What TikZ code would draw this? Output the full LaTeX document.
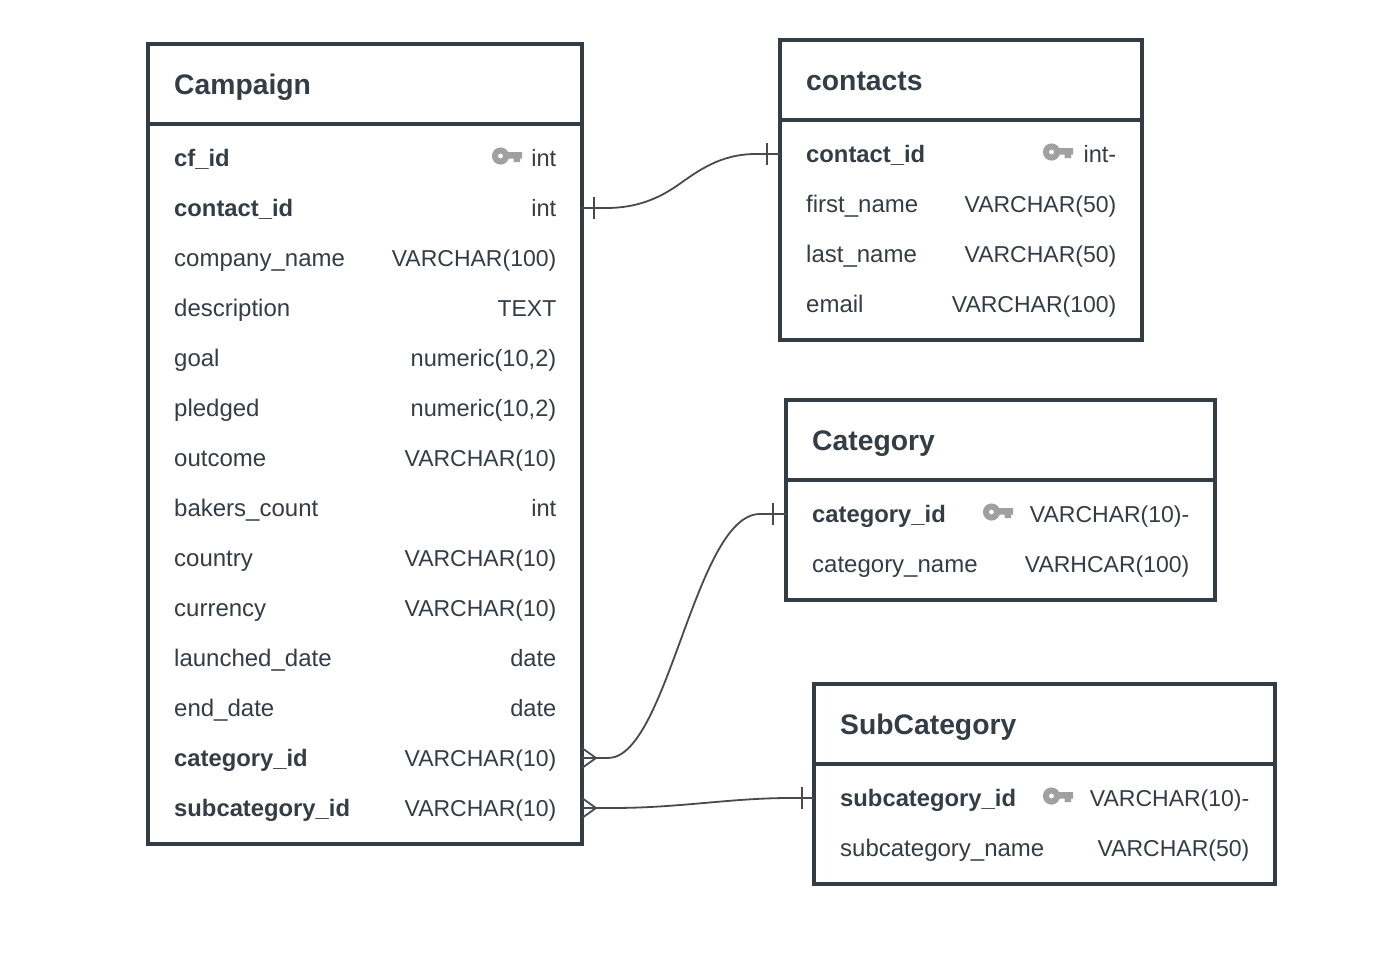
\documentclass[tikz,border=0pt]{standalone}
\usepackage{fontspec}
\setmainfont{Liberation Sans}
\definecolor{ink}{HTML}{343D46}
\definecolor{wire}{HTML}{4A4A4A}
\definecolor{keyc}{HTML}{A0A0A0}
\tikzset{
  x=1pt,y=-1pt,
  tablebox/.style={draw=ink,line width=4pt,fill=white,rectangle,inner sep=0pt,outer sep=0pt,anchor=north west},
  rule/.style={draw=ink,line width=4pt},
  title/.style={anchor=base west,inner sep=0pt,text=ink,font=\fontsize{28.3}{30}\selectfont\bfseries},
  col/.style={anchor=base west,inner sep=0pt,text=ink,font=\fontsize{24}{26}\selectfont},
  pkcol/.style={col,font=\fontsize{23.8}{26}\selectfont\bfseries},
  typ/.style={anchor=base east,inner sep=0pt,text=ink,font=\fontsize{23}{26}\selectfont},
  typl/.style={anchor=base east,inner sep=0pt,text=ink,font=\fontsize{23.6}{26}\selectfont},
  wireline/.style={draw=wire,line width=1.8pt},
  keyicon/.pic={
    \fill[keyc,even odd rule] (0,0) circle[radius=8.6] (0,0) circle[radius=2.5];
    \fill[keyc] (5,-4) -- (21.5,-4) -- (21.5,2.5) -- (19.5,2.5) -- (19.5,6) -- (13,6) -- (13,2.5) -- (5,2.5) -- cycle;
  }
}
\begin{document}
\begin{tikzpicture}
\useasboundingbox (0,0) rectangle (1382,972);
\fill[white] (0,0) rectangle (1382,972);

% ---- Campaign
\node[tablebox,minimum width=434pt,minimum height=800pt] (campaign) at (148,44) {};
\draw[rule] (148,124) -- (582,124);
\node[title] (tcampaign) at (174,94) {Campaign};
\foreach \n/\y/\st/\c/\ts/\t in {
  a/166/pkcol/cf\_id/typl/int,
  b/216/pkcol/contact\_id/typl/int,
  c/266/col/company\_name/typ/VARCHAR(100),
  d/316/col/description/typ/TEXT,
  e/366/col/goal/typl/{numeric(10,2)},
  f/416/col/pledged/typl/{numeric(10,2)},
  g/466/col/outcome/typ/VARCHAR(10),
  h/516/col/bakers\_count/typl/int,
  i/566/col/country/typ/VARCHAR(10),
  j/616/col/currency/typ/VARCHAR(10),
  k/666/col/launched\_date/typl/date,
  l/716/col/end\_date/typl/date,
  m/766/pkcol/category\_id/typ/VARCHAR(10),
  n/816/pkcol/subcategory\_id/typ/VARCHAR(10)}{
  \node[\st] (cn\n) at (174,\y) {\c};
  \node[\ts] (ct\n) at (556.5,\y) {\t};
}
\pic at (500.5,156) {keyicon};

% ---- contacts
\node[tablebox,minimum width=362pt,minimum height=300pt] (contacts) at (780,40) {};
\draw[rule] (780,120) -- (1142,120);
\node[title] (tcontacts) at (806,90) {contacts};
\node[pkcol] (kn1) at (806,162) {contact\_id};
\node[typl] (kt1) at (1116.5,162) {int-};
\node[col] (kn2) at (806,212) {first\_name};
\node[typ] (kt2) at (1116.5,212) {VARCHAR(50)};
\node[col] (kn3) at (806,262) {last\_name};
\node[typ] (kt3) at (1116.5,262) {VARCHAR(50)};
\node[col] (kn4) at (806,312) {email};
\node[typ] (kt4) at (1116.5,312) {VARCHAR(100)};
\pic at (1051.5,152) {keyicon};

% ---- Category
\node[tablebox,minimum width=429pt,minimum height=200pt] (category) at (786,400) {};
\draw[rule] (786,480) -- (1215,480);
\node[title] (tcategory) at (812,450) {Category};
\node[pkcol] (gn1) at (812,522) {category\_id};
\node[typ] (gt1) at (1189.5,522) {VARCHAR(10)-};
\node[col] (gn2) at (812,572) {category\_name};
\node[typ] (gt2) at (1189.5,572) {VARHCAR(100)};
\pic at (991.5,512) {keyicon};

% ---- SubCategory
\node[tablebox,minimum width=461pt,minimum height=200pt] (subcategory) at (814,684) {};
\draw[rule] (814,764) -- (1275,764);
\node[title] (tsub) at (840,734) {SubCategory};
\node[pkcol] (sn1) at (840,806) {subcategory\_id};
\node[typ] (st1) at (1249.5,806) {VARCHAR(10)-};
\node[col] (sn2) at (840,856) {subcategory\_name};
\node[typ] (st2) at (1249.5,856) {VARCHAR(50)};
\pic at (1051.5,796) {keyicon};

% ---- connectors
\coordinate (c1a) at (campaign.east |- 0,208);
\coordinate (c1b) at (contacts.west |- 0,154);
\coordinate (c2a) at (campaign.east |- 0,758);
\coordinate (c2b) at (category.west |- 0,514);
\coordinate (c3a) at (campaign.east |- 0,808);
\coordinate (c3b) at (subcategory.west |- 0,798);

\draw[wireline] (c1a) -- (606,208) .. controls (636,208) and (658,199) .. (678,185)
  .. controls (698,171) and (720,154) .. (756,154) -- (c1b);
\draw[wireline] (594,197) -- (594,219);
\draw[wireline] (767,143) -- (767,165);

\draw[wireline] (c2a) -- (608,758) .. controls (668,758) and (695,514) .. (760,514) -- (c2b);
\draw[wireline] (582,748) -- (596,758) -- (582,768);
\draw[wireline] (773,503) -- (773,525);

\draw[wireline] (c3a) -- (612,808) .. controls (680,808) and (730,798) .. (790,798) -- (c3b);
\draw[wireline] (582,798) -- (596,808) -- (582,818);
\draw[wireline] (802,787) -- (802,809);
\end{tikzpicture}
\end{document}
